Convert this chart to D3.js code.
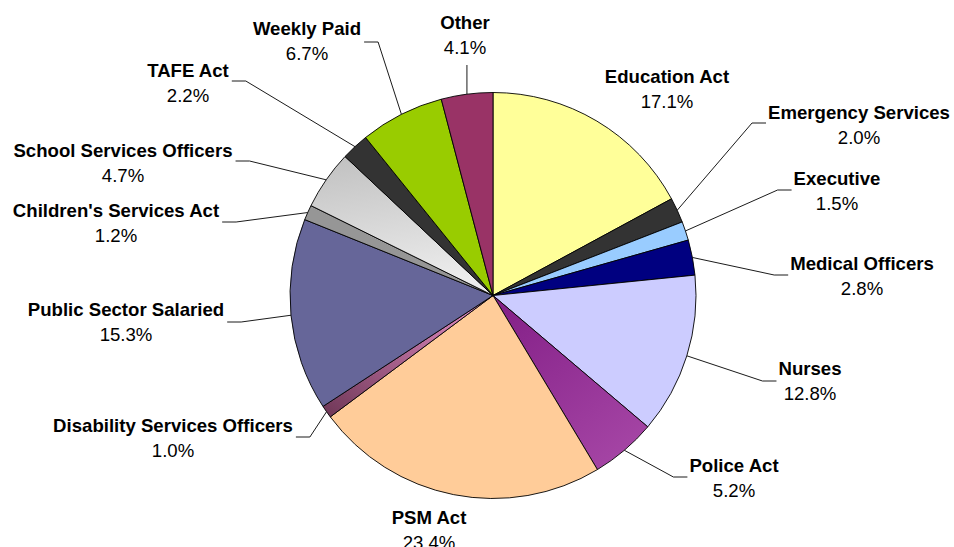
<!DOCTYPE html>
<html>
<head>
<meta charset="utf-8">
<script src="https://cdn.jsdelivr.net/npm/d3@7"></script>
<style>
  html, body { margin: 0; padding: 0; background: #fff; }
  svg { display: block; }
  text { font-family: "Liberation Sans", Arial, sans-serif; font-size: 18.6px; fill: #000; }
  .name { font-weight: bold; }
</style>
</head>
<body>
<svg id="chart" width="954" height="547"></svg>
<script>
// Employee groups, clockwise from 12 o'clock
const categories = [
  "Education Act", "Emergency Services", "Executive", "Medical Officers",
  "Nurses", "Police Act", "PSM Act", "Disability Services Officers",
  "Public Sector Salaried", "Children's Services Act", "School Services Officers",
  "TAFE Act", "Weekly Paid", "Other"
];
// Share of employees, per cent
const shares = [17.1, 2.0, 1.5, 2.8, 12.8, 5.2, 23.4, 1.0, 15.3, 1.2, 4.7, 2.2, 6.7, 4.1];

// Slice fills (plain colours or gradient ids)
const fills = [
  "#FFFF99", "#333333", "#99CCFF", "#000080",
  "#CCCCFF", "url(#gPolice)", "#FFCC99", "url(#gDisab)",
  "#666699", "#969696", "url(#gSchool)",
  "#333333", "#99CC00", "#993366"
];

// Label anchor: centre x, baseline y of the name line; side of the leader line (0 = none)
const labelX = [667, 859, 837, 862, 810, 734, 429, 173, 126, 116, 123, 188, 307, 465];
const labelY = [83, 119, 185, 270, 375, 472, 524, 432, 316, 217, 157, 77, 35, 29];
const leaderSide = [0, 1, 1, 1, 1, 1, 0, -1, -1, -1, -1, -1, -1, 2];
const leaderDy = [0, 4, 5, 5, 6, 5, 0, 5, 6, 5, 4, 4, 7, 36];

const width = 954, height = 547;
const cx = 493, cy = 295.5, R = 203;

const svg = d3.select("#chart");
const defs = svg.append("defs");

function grad(id, x1, y1, x2, y2, stops) {
  const g = defs.append("linearGradient").attr("id", id)
    .attr("x1", x1).attr("y1", y1).attr("x2", x2).attr("y2", y2);
  stops.forEach(([o, c]) => g.append("stop").attr("offset", o).attr("stop-color", c));
}
grad("gPolice", 0, 0, 0.7, 1, [[0, "#821e86"], [1, "#a444a4"]]);
grad("gDisab", 0, 1, 1, 0, [[0, "#6e3656"], [1, "#ec94cc"]]);
grad("gSchool", 0, 0, 0.2, 1, [[0, "#c0c0c0"], [1, "#ececec"]]);

const pie = d3.pie().sort(null).value(d => d).startAngle(0).endAngle(2 * Math.PI);
const arcs = pie(shares);
const arc = d3.arc().innerRadius(0).outerRadius(R);
const edge = d3.arc().innerRadius(R).outerRadius(R);
const fmt = d3.format(".1f");

const g = svg.append("g").attr("transform", `translate(${cx},${cy})`);
g.selectAll("path.slice")
  .data(arcs)
  .join("path")
  .attr("class", "slice")
  .attr("d", arc)
  .attr("fill", (d, i) => fills[i])
  .attr("stroke", "#000")
  .attr("stroke-width", 0.9)
  .attr("stroke-linejoin", "round");

// Labels
const labels = svg.append("g");
const names = [];
categories.forEach((c, i) => {
  const t = labels.append("text").attr("class", "name")
    .attr("x", labelX[i]).attr("y", labelY[i])
    .attr("text-anchor", "middle").text(c);
  names.push(t);
  labels.append("text")
    .attr("x", labelX[i]).attr("y", labelY[i] + 24.5)
    .attr("text-anchor", "middle").text(fmt(shares[i]) + "%");
});

// Leader lines: pie edge at mid-angle -> elbow -> beside the label
const leaders = svg.append("g").attr("fill", "none").attr("stroke", "#000").attr("stroke-width", 0.9);
arcs.forEach((d, i) => {
  const side = leaderSide[i];
  if (!side) return;
  const [ex, ey] = edge.centroid(d);
  const sx = cx + ex, sy = cy + ey;
  let pts;
  if (side === 2) {
    pts = [[sx, sy], [sx, labelY[i] + leaderDy[i]]];
  } else {
    const bb = names[i].node().getBBox();
    const y = labelY[i] + leaderDy[i];
    const end = side > 0 ? bb.x - 2 : bb.x + bb.width + 3;
    const elbow = end - side * 14;
    pts = [[sx, sy], [elbow, y], [end, y]];
  }
  leaders.append("path").attr("d", d3.line()(pts));
});
</script>
</body>
</html>
